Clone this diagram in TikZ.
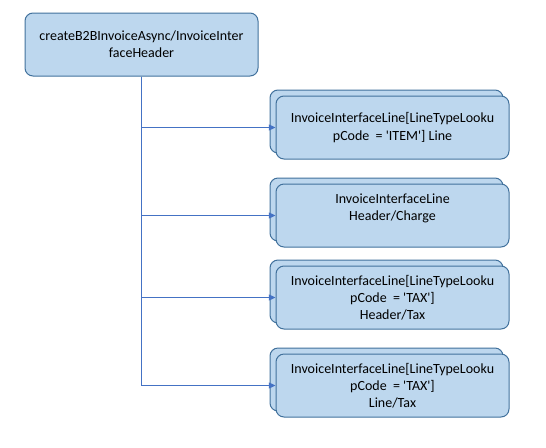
\documentclass[tikz,border=0pt]{standalone}
\usepackage{fontspec}
\setmainfont{Carlito}
\usepackage{tikz}
\usetikzlibrary{arrows.meta}
\usetikzlibrary{positioning}

\definecolor{boxfill}{HTML}{BDD7EE}
\definecolor{boxline}{HTML}{41719C}
\definecolor{linkline}{HTML}{4472C4}

\tikzset{
  itembox/.style={draw=boxline, fill=boxfill, line width=0.75pt,
    rounded corners=6pt, minimum width=174.75pt, minimum height=47.25pt,
    align=center, font=\fontsize{10.5pt}{12.9pt}\selectfont, inner sep=0pt},
  link/.style={draw=linkline, line width=0.75pt,
    -{Triangle[length=5pt,width=4.5pt]}}
}

\begin{document}
\begin{tikzpicture}
      [x=0.75pt, y=-0.75pt]
      \useasboundingbox (0,0) rectangle (546,447);

      \node (hdr) [itembox] at (141.5, 44.5)
        {createB2BInvoiceAsync/InvoiceInter\\faceHeader};

      % stacked copies behind
      \node (itmb) [itembox] at (386.5, 121.5) {};
      \node (chgb) [itembox] at (386.5, 209.5) {};
      \node (htaxb) [itembox] at (386.5, 291.5) {};
      \node (ltaxb) [itembox] at (386.5, 379.5) {};

      \node (itm) [itembox] at (392.5, 127.5)
        {InvoiceInterfaceLine[LineTypeLooku\\pCode \ = \textquotesingle ITEM\textquotesingle] Line};
      \node (chg) [itembox] at (392.5, 215.5)
        {InvoiceInterfaceLine\\Header/Charge\\\mbox{}};
      \node (htax) [itembox] at (392.5, 297.5)
        {InvoiceInterfaceLine[LineTypeLooku\\pCode \ = \textquotesingle TAX\textquotesingle]\\Header/Tax};
      \node (ltax) [itembox] at (392.5, 385.5)
        {InvoiceInterfaceLine[LineTypeLooku\\pCode \ = \textquotesingle TAX\textquotesingle]\\Line/Tax};

      \draw [link] (hdr.south) |- (itm.west);
      \draw [link] (hdr.south) |- (chg.west);
      \draw [link] (hdr.south) |- (htax.west);
      \draw [link] (hdr.south) |- (ltax.west);

    \end{tikzpicture}
\end{document}
